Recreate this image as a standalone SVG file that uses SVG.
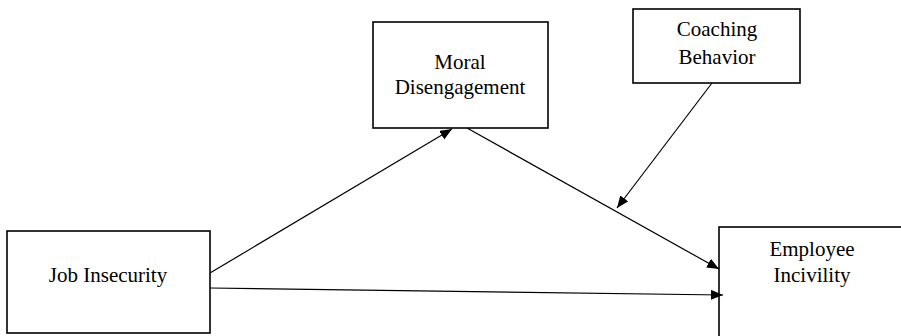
<svg xmlns="http://www.w3.org/2000/svg" width="901" height="336" viewBox="0 0 901 336">
  <style>
    .box { fill: #ffffff; stroke: #000000; stroke-width: 1.6; }
    .lbl { font-family: "Liberation Serif", "Times New Roman", serif; font-size: 21px; fill: #000000; text-anchor: middle; }
    .conn { stroke: #000000; stroke-width: 1.2; fill: none; marker-end: url(#arrow); }
  </style>
  <defs>
    <marker id="arrow" markerUnits="userSpaceOnUse" markerWidth="14" markerHeight="12" refX="12" refY="5" orient="auto">
      <path d="M0,0 L12,5 L0,10 Z" fill="#000000"/>
    </marker>
  </defs>
  <rect width="901" height="336" fill="#ffffff"/>
  <g id="connectors">
    <line class="conn" x1="210" y1="273" x2="452" y2="129"/>
    <line class="conn" x1="467" y1="128" x2="719" y2="269"/>
    <line class="conn" x1="210" y1="288" x2="723" y2="295"/>
    <line class="conn" x1="712" y1="83" x2="617" y2="208"/>
  </g>
  <g id="moral-disengagement">
    <rect class="box" x="373" y="22" width="175" height="106"/>
    <text class="lbl" x="460" y="69">Moral</text>
    <text class="lbl" x="460" y="94">Disengagement</text>
  </g>
  <g id="coaching-behavior">
    <rect class="box" x="633" y="9" width="167" height="74"/>
    <text class="lbl" x="717" y="36">Coaching</text>
    <text class="lbl" x="717" y="64">Behavior</text>
  </g>
  <g id="job-insecurity">
    <rect class="box" x="7" y="231" width="203" height="102"/>
    <text class="lbl" x="108" y="282">Job Insecurity</text>
  </g>
  <g id="employee-incivility">
    <rect class="box" x="719" y="227" width="186" height="115" style="fill:none"/>
    <text class="lbl" x="812" y="256">Employee</text>
    <text class="lbl" x="812" y="282">Incivility</text>
  </g>
</svg>
